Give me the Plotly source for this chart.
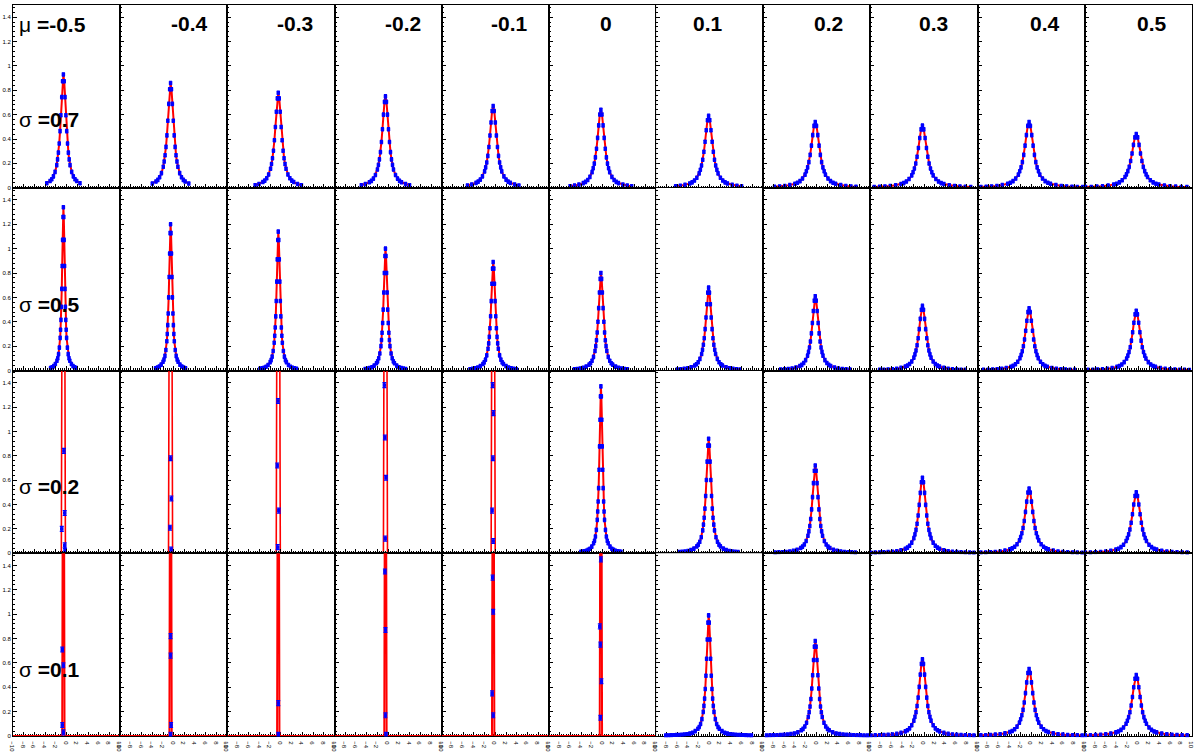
import plotly.graph_objects as go
from plotly.subplots import make_subplots

# ---- grid parameters -------------------------------------------------------
MU_LABELS = ["-0.5", "-0.4", "-0.3", "-0.2", "-0.1", "0", "0.1", "0.2", "0.3", "0.4", "0.5"]
SIGMA_LABELS = ["0.7", "0.5", "0.2", "0.1"]

# peak position of each column (x units)
CENTER = [-0.6, -0.6, -0.5, -0.5, -0.4, -0.3, -0.2, -0.3, -0.3, -0.4, -0.4]

# peak height of every panel; None = peak runs far above the frame
PEAK = [
    [0.93, 0.86, 0.78, 0.75, 0.67, 0.64, 0.59, 0.54, 0.51, 0.54, 0.44],
    [1.34, 1.20, 1.14, 1.00, 0.89, 0.80, 0.68, 0.61, 0.53, 0.51, 0.49],
    [None, None, None, None, None, 1.37, 0.94, 0.72, 0.62, 0.53, 0.50],
    [None, None, None, None, None, None, 0.99, 0.78, 0.63, 0.55, 0.50],
]

# half width at half maximum of every panel (x units)
HWHM = [
    [0.62, 0.68, 0.72, 0.75, 0.80, 0.82, 0.88, 0.95, 1.00, 1.00, 1.05],
    [0.30, 0.35, 0.38, 0.42, 0.48, 0.55, 0.65, 0.72, 0.80, 0.85, 0.90],
    [None, None, None, None, None, 0.34, 0.55, 0.68, 0.80, 0.90, 0.95],
    [None, None, None, None, None, None, 0.50, 0.65, 0.80, 0.90, 0.95],
]

# how far from the peak (x units) the filled bins reach
TAIL_REACH = [
    [3.5, 4.0, 4.5, 5.0, 5.5, 6.0, 7.0, 8.0, 9.0, 10.0, 11.0],
    [2.5, 3.0, 3.5, 4.0, 4.5, 5.0, 6.0, 7.0, 8.0, 9.0, 10.0],
    [None, None, None, None, None, 4.0, 6.0, 8.0, 10.0, 11.0, 11.0],
    [None, None, None, None, None, None, 8.0, 10.0, 11.0, 11.0, 11.0],
]

# common line shape: height relative to the peak vs distance in HWHM units
PROFILE_OFFSET = [0, 0.25, 0.5, 0.75, 1, 1.25, 1.5, 1.75, 2, 2.5, 3, 3.5, 4, 5, 6, 7, 8,
                  9, 10, 11, 12, 13, 14, 15, 16, 17, 18, 19, 20, 22, 24, 26, 28, 30]
PROFILE_LEVEL = [1.0, 0.94, 0.80, 0.64, 0.50, 0.39, 0.31, 0.25, 0.20, 0.14, 0.10, 0.075,
                 0.06, 0.04, 0.027, 0.02, 0.015, 0.012, 0.010, 0.008, 0.007, 0.006, 0.005,
                 0.0045, 0.004, 0.0035, 0.003, 0.0028, 0.0025, 0.002, 0.0018, 0.0015,
                 0.0012, 0.001]

# sparse histograms of the spike panels: (x, y) of each filled bin
SPIKE_POINTS = {
    (2, 0): [(-0.5, 0.84), (-0.35, 0.33), (-0.9, 0.20), (-0.35, 0.065), (-0.3, 0.02)],
    (2, 1): [(-0.6, 0.78), (-0.45, 0.45), (-0.7, 0.21), (-0.5, 0.03)],
    (2, 2): [(-0.55, 1.25), (-0.7, 0.72), (-0.4, 0.35), (-0.6, 0.05)],
    (2, 3): [(-0.7, 1.38), (-0.6, 0.95), (-0.4, 0.62), (-0.55, 0.12)],
    (2, 4): [(-0.5, 1.38), (-0.35, 1.15), (-0.45, 0.78), (-0.6, 0.35), (-0.4, 0.1)],
    (3, 0): [(-0.8, 0.71), (-0.6, 0.58), (-0.8, 0.09), (-0.6, 0.03)],
    (3, 1): [(-0.6, 0.82), (-0.6, 0.66), (-0.5, 0.09), (-0.6, 0.01)],
    (3, 2): [(-0.5, 0.27), (-0.5, 0.01)],
    (3, 3): [(-0.6, 1.35), (-0.5, 0.87), (-0.5, 0.17), (-0.4, 0.01)],
    (3, 4): [(-0.5, 1.30), (-0.4, 1.02), (-0.6, 0.35), (-0.4, 0.17)],
    (3, 5): [(-0.3, 1.45), (-0.5, 0.90), (-0.4, 0.75), (-0.2, 0.45), (-0.4, 0.15)],
}
# spike fit half widths (x units) at the base and at the frame top, per row
SPIKE_HALF_BASE = {2: 0.38, 3: 0.22}
SPIKE_HALF_TOP = {2: 0.28, 3: 0.14}

BLUE = "rgb(0,0,255)"
RED = "rgb(255,0,0)"
YMAX = 1.5

fig = make_subplots(rows=4, cols=11, horizontal_spacing=0, vertical_spacing=0)

for r in range(4):
    for c in range(11):
        row, col = r + 1, c + 1
        x0 = CENTER[c]
        if PEAK[r][c] is not None:
            h, w, reach = PEAK[r][c], HWHM[r][c], TAIL_REACH[r][c]
            offs = [-o for o in PROFILE_OFFSET[:0:-1]] + PROFILE_OFFSET
            levs = PROFILE_LEVEL[:0:-1] + PROFILE_LEVEL
            bx, by = [], []
            for o, lv in zip(offs, levs):
                x = x0 + o * w
                if -10 <= x <= 10 and abs(o * w) <= reach:
                    bx.append(x)
                    by.append(h * lv)
            # fitted curve
            fig.add_trace(go.Scatter(x=bx, y=by, mode="lines",
                                     line=dict(color=RED, width=2),
                                     hoverinfo="skip", showlegend=False),
                          row=row, col=col)
            # histogram bins with error bars
            fig.add_trace(go.Scatter(x=bx, y=by, mode="markers",
                                     marker=dict(color=BLUE, size=3.5, symbol="square"),
                                     error_y=dict(type="constant", value=0.014,
                                                  color=BLUE, thickness=1.2, width=1.5),
                                     cliponaxis=False, showlegend=False),
                          row=row, col=col)
        else:
            wb, wt = SPIKE_HALF_BASE[r], SPIKE_HALF_TOP[r]
            fig.add_trace(go.Scatter(
                x=[-10, x0 - wb, x0 - wt, x0 + wt, x0 + wb, 10],
                y=[0, 0, YMAX + 0.2, YMAX + 0.2, 0, 0],
                mode="lines", line=dict(color=RED, width=2 if r == 3 else 1.6),
                hoverinfo="skip", showlegend=False), row=row, col=col)
            pts = SPIKE_POINTS[(r, c)]
            fig.add_trace(go.Scatter(x=[p[0] for p in pts], y=[p[1] for p in pts],
                                     mode="markers",
                                     marker=dict(color=BLUE, size=3.5, symbol="square"),
                                     error_y=dict(type="constant", value=0.02,
                                                  color=BLUE, thickness=1.2, width=2),
                                     cliponaxis=False, showlegend=False),
                          row=row, col=col)

        fig.update_xaxes(range=[-10, 10], showline=True, linecolor="black", linewidth=1.2,
                         mirror=True, ticks="inside", ticklen=4, tickwidth=1,
                         tickcolor="black", dtick=2, tick0=0,
                         minor=dict(ticks="inside", ticklen=2, dtick=0.4, tickcolor="black"),
                         showgrid=False, zeroline=False,
                         showticklabels=(r == 3),
                         tickfont=dict(size=6, family="Liberation Sans", color="black"),
                         layer="below traces" if r == 3 else "above traces",
                         row=row, col=col)
        fig.update_yaxes(range=[0, YMAX], showline=True, linecolor="black", linewidth=1,
                         mirror=True, ticks="inside", ticklen=4, tickwidth=1,
                         tickcolor="black", dtick=0.2, tick0=0,
                         minor=dict(ticks="inside", ticklen=2, dtick=0.04, tickcolor="black"),
                         showgrid=False, zeroline=False,
                         showticklabels=(c == 0),
                         tickfont=dict(size=6, family="Liberation Sans", color="black"),
                         row=row, col=col)

# ---- labels ----------------------------------------------------------------
W, H = 1196, 754
ML, MR, MT, MB = 8, 2, 5, 10


def px(xp):
    return (xp - ML) / (W - ML - MR)


def py(yp):
    return (H - MB - yp) / (H - MT - MB)


LABEL_FONT = dict(family="Liberation Sans", size=21, color="black")
MU_LABEL_X = [186, 292, 400, 507, 605, 707, 828, 934, 1046, 1154]
SIGMA_LABEL_Y = [121, 308, 492, 677]

annotations = [dict(x=px(12), y=py(25), xref="paper", yref="paper", xanchor="left",
                    yanchor="middle", showarrow=False, font=LABEL_FONT,
                    text="μ <b>=" + MU_LABELS[0] + "</b>")]
for lab, xc in zip(MU_LABELS[1:], MU_LABEL_X):
    annotations.append(dict(x=px(xc), y=py(24), xref="paper", yref="paper",
                            xanchor="center", yanchor="middle", showarrow=False,
                            font=LABEL_FONT, text="<b>" + lab + "</b>"))
for lab, yc in zip(SIGMA_LABELS, SIGMA_LABEL_Y):
    annotations.append(dict(x=px(12), y=py(yc), xref="paper", yref="paper",
                            xanchor="left", yanchor="middle", showarrow=False,
                            font=LABEL_FONT, text="σ <b>=" + lab + "</b>"))

fig.update_layout(width=W, height=H, margin=dict(l=ML, r=MR, t=MT, b=MB),
                  paper_bgcolor="white", plot_bgcolor="white",
                  annotations=annotations, showlegend=False)

fig.write_html("out.html")
